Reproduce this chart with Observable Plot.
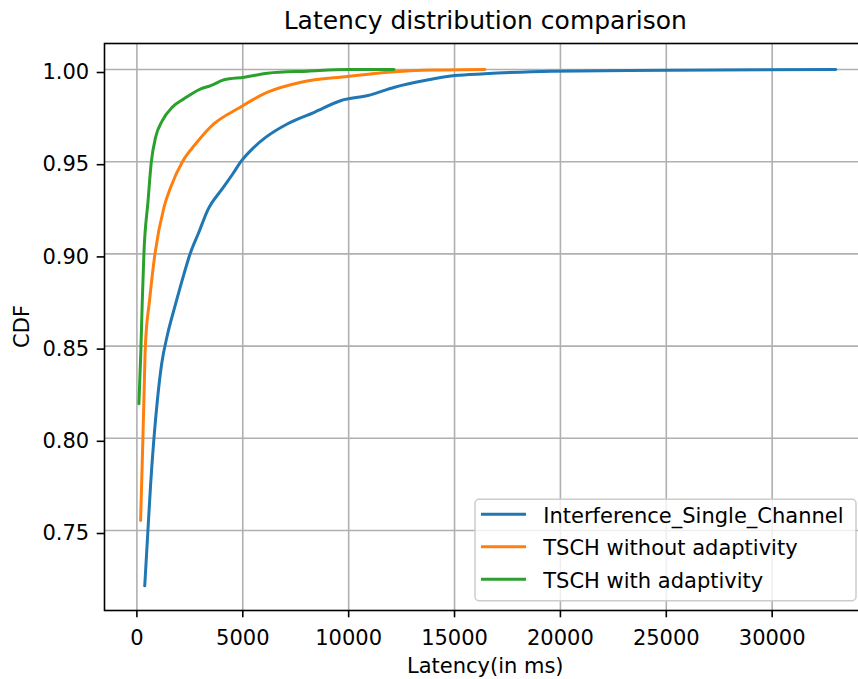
<!DOCTYPE html>
<html><head><meta charset="utf-8">
<script src="https://cdn.jsdelivr.net/npm/d3@7"></script>
<script src="https://cdn.jsdelivr.net/npm/@observablehq/plot@0.6"></script>
<style>
html,body{margin:0;padding:0;background:#fff;overflow:hidden;width:858px;height:679px;}
#chart svg{display:block;max-width:none !important;}
</style>
</head><body><div id="chart"></div>
<script>
const titleText = "Latency distribution comparison";
const xLabel = "Latency(in ms)";
const yLabel = "CDF";
const seriesNames = ["Interference_Single_Channel", "TSCH without adaptivity", "TSCH with adaptivity"];
const seriesColors = ["#1f77b4", "#ff7f0e", "#2ca02c"];

const interferenceX = [370, 521, 649, 805, 966, 1170, 1440, 1785, 2225, 2510, 2936, 3333, 4044, 4517, 4910, 5500, 6094, 7121, 8380, 9645, 10909, 12169, 13589, 15010, 16430, 19588, 25114, 33000];
const interferenceY = [0.720, 0.750, 0.7753, 0.800, 0.8205, 0.8404, 0.856, 0.8711, 0.8892, 0.900, 0.912, 0.9235, 0.9355, 0.9432, 0.950, 0.9575, 0.9633, 0.9706, 0.9768, 0.9832, 0.9859, 0.9904, 0.9940, 0.9967, 0.9977, 0.9991, 0.9996, 1.000];

const noAdaptX = [175, 260, 330, 400, 600, 853, 1279, 1596, 2150, 2779, 3646, 4754, 6174, 7751, 9962, 11856, 14050, 16430];
const noAdaptY = [0.7554, 0.790, 0.8205, 0.850, 0.875, 0.900, 0.9253, 0.9362, 0.950, 0.9597, 0.9706, 0.9787, 0.9877, 0.9931, 0.9962, 0.9985, 0.9997, 1.000];

const adaptX = [95, 180, 255, 331, 521, 682, 885, 1202, 1676, 2225, 3016, 3490, 4119, 5066, 6174, 8068, 9962, 12140];
const adaptY = [0.8187, 0.845, 0.8747, 0.900, 0.928, 0.950, 0.9633, 0.9723, 0.9796, 0.9841, 0.9895, 0.9913, 0.9944, 0.9958, 0.998, 0.9991, 1.000, 1.000];

const xTicks = [0, 5000, 10000, 15000, 20000, 25000, 30000];
const yTicks = [0.75, 0.80, 0.85, 0.90, 0.95, 1.00];

const seriesX = [interferenceX, noAdaptX, adaptX];
const seriesY = [interferenceY, noAdaptY, adaptY];
const rows = [];
seriesNames.forEach((name, i) => {
  seriesX[i].forEach((x, j) => rows.push({series: name, x, y: seriesY[i][j]}));
});

const FONT = "DejaVu Sans";
const W = 868, H = 679;
const mL = 104, mR = 1.5, mT = 43, mB = 69;

const chart = Plot.plot({
  width: W, height: H,
  marginLeft: mL, marginRight: mR, marginTop: mT, marginBottom: mB,
  style: {fontFamily: FONT, fontSize: "21px", background: "#fff", color: "#000", maxWidth: "none"},
  x: {domain: [-1530, 34478]},
  y: {domain: [0.70662, 1.0141]},
  color: {domain: seriesNames, range: seriesColors},
  marks: [
    Plot.gridX(xTicks, {stroke: "#b0b0b0", strokeOpacity: 1, strokeWidth: 1.6}),
    Plot.gridY(yTicks, {stroke: "#b0b0b0", strokeOpacity: 1, strokeWidth: 1.6}),
    Plot.line(rows, {x: "x", y: "y", z: "series", stroke: "series", strokeWidth: 3, curve: "monotone-x"}),
    Plot.frame({stroke: "#000", strokeWidth: 1.6}),
    Plot.axisX(xTicks, {tickSize: 7.3, tickPadding: 12, strokeWidth: 1.6, label: null, fontSize: 21, tickFormat: d => String(d)}),
    Plot.axisY(yTicks, {tickSize: 7.3, tickPadding: 8, strokeWidth: 1.6, label: null, fontSize: 21, dy: 3, tickFormat: d3.format(".2f")})
  ]
});
document.getElementById("chart").appendChild(chart);

const svg = d3.select(chart);
const cx = (mL + (W - mR)) / 2;
svg.append("text").attr("x", cx).attr("y", 28.5).attr("text-anchor", "middle")
  .attr("font-family", FONT).attr("font-size", 25).attr("fill", "#000").text(titleText);
svg.append("text").attr("x", cx).attr("y", 673).attr("text-anchor", "middle")
  .attr("font-family", FONT).attr("font-size", 21).attr("fill", "#000").text(xLabel);
svg.append("text").attr("transform", `translate(28.5,${(mT + H - mB) / 2}) rotate(-90)`)
  .attr("text-anchor", "middle")
  .attr("font-family", FONT).attr("font-size", 21).attr("fill", "#000").text(yLabel);

// legend
const lg = svg.append("g");
lg.append("rect").attr("x", 475).attr("y", 499.3).attr("width", 381).attr("height", 101.4)
  .attr("rx", 4).attr("fill", "#fff").attr("fill-opacity", 0.8).attr("stroke", "#cccccc").attr("stroke-width", 1.5);
const rowY = [514.3, 546.7, 579.3];
seriesNames.forEach((name, i) => {
  lg.append("line").attr("x1", 481).attr("x2", 526).attr("y1", rowY[i]).attr("y2", rowY[i])
    .attr("stroke", seriesColors[i]).attr("stroke-width", 3);
  lg.append("text").attr("x", 543.3).attr("y", rowY[i] + 8.5).attr("text-anchor", "start")
    .attr("font-family", FONT).attr("font-size", 21).attr("fill", "#000").text(name);
});
</script>
</body></html>
